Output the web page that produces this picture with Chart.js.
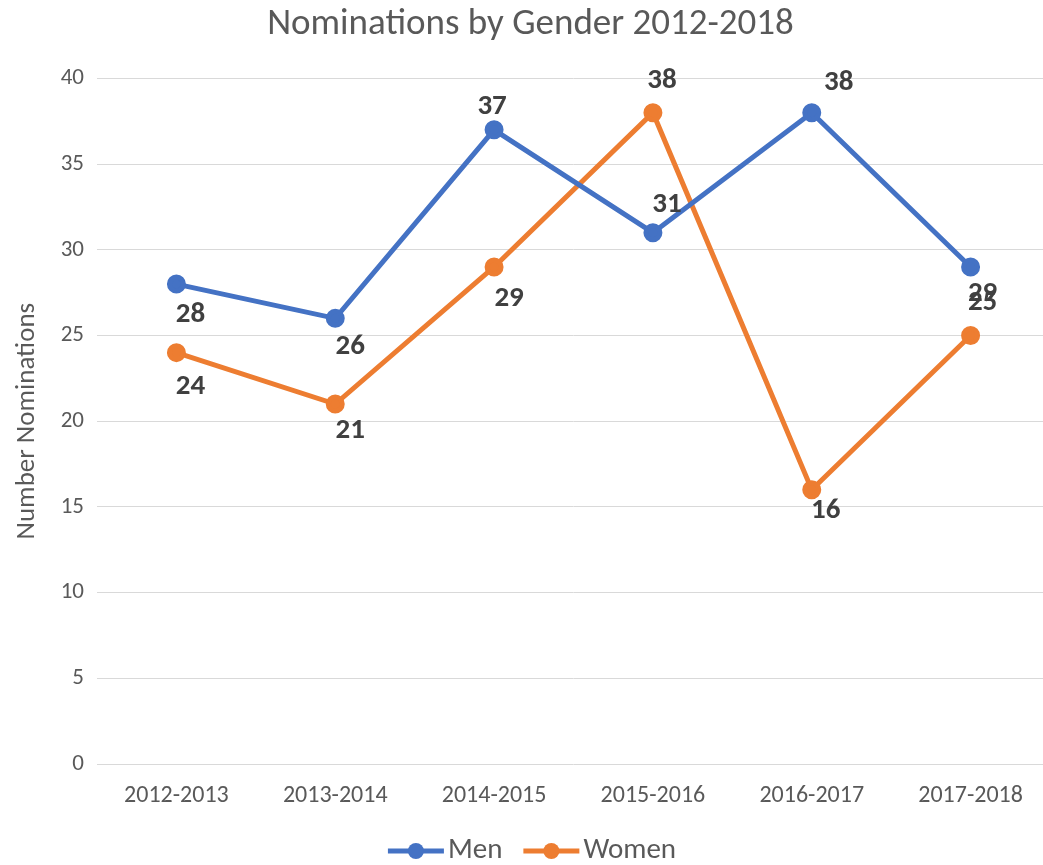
<!DOCTYPE html>
<html>
<head>
<meta charset="utf-8">
<script src="https://cdn.jsdelivr.net/npm/chart.js@4"></script>
<style>
  html, body { margin: 0; padding: 0; background: #fff; overflow: hidden; }
</style>
</head>
<body>
<canvas id="myChart" width="1062" height="865"></canvas>
<script>
// Data
const seasons = ['2012-2013', '2013-2014', '2014-2015', '2015-2016', '2016-2017', '2017-2018'];
const men = [28, 26, 37, 31, 38, 29];
const women = [24, 21, 29, 38, 16, 25];
const yTicks = [0, 5, 10, 15, 20, 25, 30, 35, 40];

// Label offsets from each point (style only)
const menLabelOffsets = [[14, 31], [15, 28], [-2, -23], [14, -28], [27, -30], [12, 27]];
const womenLabelOffsets = [[14, 34], [15, 27], [15, 32], [9, -32], [14, 21], [12, -33]];

const blue = '#4472C4';
const orange = '#ED7D31';
const fontFam = "Carlito, 'Liberation Sans Narrow', 'Open Sans', sans-serif";

// Point labels + legend (line with dot, then name)
const extras = {
  id: 'extras',
  afterDatasetsDraw(chart) {
    let ctx = chart.ctx;
    ctx.save();
    ctx.font = 'bold 29px ' + fontFam;
    ctx.fillStyle = '#404040';
    ctx.textAlign = 'center';
    ctx.textBaseline = 'middle';
    chart.data.datasets.forEach(function(ds, i) {
      let meta = chart.getDatasetMeta(i);
      meta.data.forEach(function(pt, j) {
        let off = ds.labelOffsets[j];
        ctx.fillText(ds.data[j], pt.x + off[0], pt.y + off[1]);
      });
    });
    ctx.restore();
  },
  afterDraw(chart) {
    let ctx = chart.ctx;
    ctx.save();
    ctx.font = '29px ' + fontFam;
    ctx.textBaseline = 'middle';
    ctx.textAlign = 'left';
    let markW = 56, gapText = 4, gapItem = 21;
    let items = chart.data.datasets.map(function(ds) {
      return { text: ds.label, color: ds.borderColor, w: ctx.measureText(ds.label).width };
    });
    let total = 0;
    items.forEach(function(it, i) {
      total += markW + gapText + it.w + (i > 0 ? gapItem : 0);
    });
    let x = chart.width / 2 - total / 2 + 1;
    let y = 851;
    items.forEach(function(it) {
      ctx.strokeStyle = it.color;
      ctx.lineWidth = 5;
      ctx.beginPath(); ctx.moveTo(x, y); ctx.lineTo(x + markW, y); ctx.stroke();
      ctx.fillStyle = it.color;
      ctx.beginPath(); ctx.arc(x + markW / 2, y, 8, 0, Math.PI * 2); ctx.fill();
      ctx.fillStyle = '#595959';
      ctx.fillText(it.text, x + markW + gapText, y);
      x += markW + gapText + it.w + gapItem;
    });
    ctx.restore();
  }
};

const ctx = document.getElementById('myChart');

new Chart(ctx, {
  type: 'line',
  data: {
    labels: seasons,
    datasets: [{
      label: 'Men',
      data: men,
      labelOffsets: menLabelOffsets,
      borderColor: blue,
      backgroundColor: blue,
      borderWidth: 5,
      pointRadius: 7,
      pointHoverRadius: 7,
      tension: 0
    }, {
      label: 'Women',
      data: women,
      labelOffsets: womenLabelOffsets,
      borderColor: orange,
      backgroundColor: orange,
      borderWidth: 5,
      pointRadius: 7,
      pointHoverRadius: 7,
      tension: 0
    }]
  },
  options: {
    responsive: false,
    animation: false,
    layout: { padding: { left: 0, right: 1, top: 0, bottom: 36 } },
    plugins: {
      title: {
        display: true,
        text: 'Nominations by Gender 2012-2018',
        color: '#595959',
        font: { family: fontFam, size: 37, weight: 'normal' },
        padding: { top: 3, bottom: 31 }
      },
      legend: { display: false },
      tooltip: { enabled: false }
    },
    scales: {
      x: {
        offset: true,
        grid: { display: false, drawTicks: false },
        border: { display: false },
        afterFit: function(scale) { scale.height = 65; },
        ticks: { color: '#595959', font: { family: fontFam, size: 24 }, padding: 18, maxRotation: 0 }
      },
      y: {
        min: 0,
        max: 40,
        afterBuildTicks: function(scale) {
          scale.ticks = yTicks.map(function(v) { return { value: v }; });
        },
        afterFit: function(scale) { scale.width = 97; },
        grid: { color: '#d9d9d9', lineWidth: 1, drawTicks: false },
        border: { display: false },
        ticks: { color: '#595959', font: { family: fontFam, size: 23 }, padding: 13 },
        title: {
          display: true,
          text: 'Number Nominations',
          color: '#595959',
          font: { family: fontFam, size: 27 },
          padding: { top: 11, bottom: 0 }
        }
      }
    }
  },
  plugins: [extras]
});
</script>
</body>
</html>
